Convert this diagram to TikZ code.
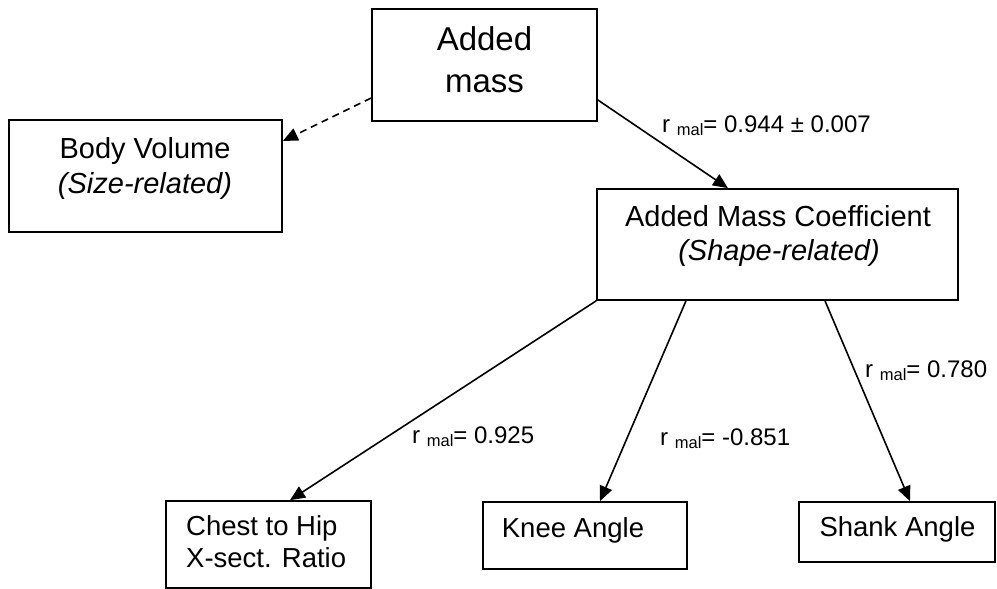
\documentclass[tikz,border=0pt]{standalone}
\usepackage{fontspec}
\setmainfont{Liberation Sans}
\usetikzlibrary{arrows.meta}
\newcommand{\rmal}[1]{r \raisebox{-3.5pt}{\fontsize{16.5}{18}\selectfont mal}= #1}
\begin{document}
\begin{tikzpicture}[x=1pt,y=-1pt,
  box/.style={draw,line width=1.7pt,rectangle,inner sep=0pt},
  big/.style={font=\fontsize{33}{40}\selectfont,inner sep=0pt},
  mid/.style={font=\fontsize{29}{34}\selectfont,inner sep=0pt},
  sml/.style={font=\fontsize{27.5}{32}\selectfont,inner sep=0pt},
  lab/.style={font=\fontsize{24}{28}\selectfont,inner sep=0pt,anchor=base west},
  conn/.style={line width=1.6pt,-{Triangle[length=15pt,width=13pt]}}]
\useasboundingbox (0,0) rectangle (997,589);
% boxes
\node[box,minimum width=225pt,minimum height=112pt] (am) at (484.5,65) {};
\node[box,minimum width=273pt,minimum height=112pt] (bv) at (145.5,176) {};
\node[box,minimum width=361pt,minimum height=111pt] (acm) at (777.5,244.5) {};
\node[box,minimum width=205pt,minimum height=87pt] (ch) at (268.5,544.5) {};
\node[box,minimum width=204pt,minimum height=67pt] (kn) at (585,535.5) {};
\node[box,minimum width=196pt,minimum height=60pt] (sh) at (897,532) {};
% texts
\node[big,anchor=base] (amt1) at (484.5,50) {Added};
\node[big,anchor=base] (amt2) at (484.5,92) {mass};
\node[mid,anchor=base] (bvt1) at (145,158) {Body Volume};
\node[mid,anchor=base] (bvt2) at (145,193) {\itshape (Size-related)};
\node[mid,anchor=base] (acmt1) at (778,226) {Added Mass Coefficient};
\node[mid,anchor=base] (acmt2) at (779,260) {\itshape (Shape-related)};
\node[sml,anchor=base west] (cht1) at (186,535) {Chest to Hip};
\node[sml,anchor=base west] (cht2) at (186,567) {X-sect. Ratio};
\node[sml,anchor=base] (knt) at (573,537) {Knee Angle};
\node[sml,anchor=base] (sht) at (897.5,536) {Shank Angle};
% connectors
\draw[conn,dashed,dash pattern=on 7pt off 5pt] ([yshift=-33pt]am.west) -- ([yshift=35pt]bv.east);
\draw[conn] ([yshift=-35pt]am.east) -- ([xshift=-49.5pt]acm.north);
\draw[conn] (acm.south west) -- ([xshift=21.5pt]ch.north);
\draw[conn] ([xshift=-91.5pt]acm.south) -- ([xshift=15pt]kn.north);
\draw[conn] ([xshift=47.5pt]acm.south) -- ([xshift=13pt]sh.north);
% labels
\node[lab] (l1) at (662,132) {\rmal{0.944 ± 0.007}};
\node[lab] (l2) at (412,443) {\rmal{0.925}};
\node[lab] (l3) at (660,445) {\rmal{-0.851}};
\node[lab] (l4) at (865,377) {\rmal{0.780}};
\end{tikzpicture}
\end{document}
